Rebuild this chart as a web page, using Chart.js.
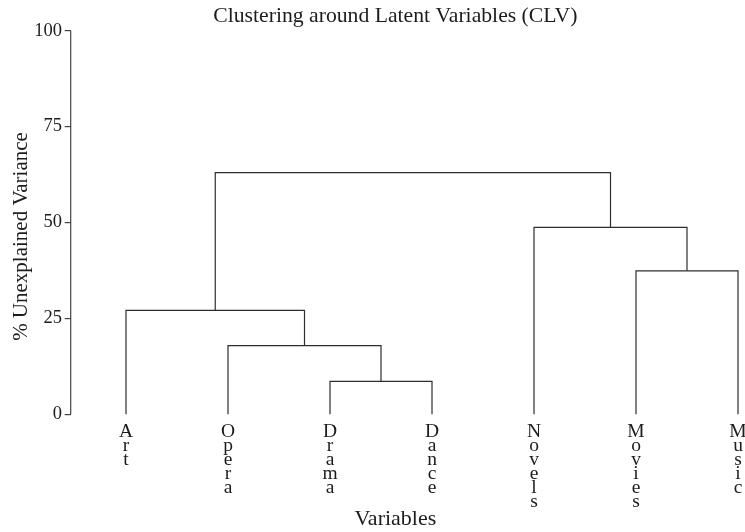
<!DOCTYPE html>
<html>
<head>
<meta charset="utf-8">
<script src="https://cdn.jsdelivr.net/npm/chart.js@4/dist/chart.umd.min.js"></script>
<style>
  html, body { margin: 0; padding: 0; background: #ffffff; }
  #wrap { width: 745px; height: 532px; position: relative; }
</style>
</head>
<body>
<div id="wrap"><canvas id="c" width="745" height="532"></canvas></div>
<script>
// ---- data ----
const leafLabels = ['Art', 'Opera', 'Drama', 'Dance', 'Novels', 'Movies', 'Music'];
// merges: negative = leaf index (1-based), positive = earlier merge (1-based)
const mergeLeft  = [-3, -2, -1, -6, -5, 3];
const mergeRight = [-4,  1,  2, -7,  4, 5];
const mergeHeights = [8.6, 17.9, 27.1, 37.4, 48.75, 63.0];
const yTickValues = [0, 25, 50, 75, 100];
const titleText = 'Clustering around Latent Variables (CLV)';
const xTitleText = 'Variables';
const yTitleText = '% Unexplained Variance';

// ---- build dendrogram segments through the scales ----
const nodePos = [], nodeH = [];
function childPos(c) { return c < 0 ? -c : nodePos[c - 1]; }
function childH(c) { return c < 0 ? 0 : nodeH[c - 1]; }
const lineColor = '#2e2e2e';
const datasets = mergeHeights.map((h, i) => {
  const l = mergeLeft[i], r = mergeRight[i];
  const xl = childPos(l), xr = childPos(r);
  nodePos.push((xl + xr) / 2);
  nodeH.push(h);
  return {
    // drawn right-to-left so every point is kept even beyond the axis range
    data: [
      { x: xr, y: childH(r) },
      { x: xr, y: h },
      { x: xl, y: h },
      { x: xl, y: childH(l) }
    ],
    borderColor: lineColor,
    borderWidth: 1.2,
    pointRadius: 0,
    tension: 0,
    fill: false,
    clip: false
  };
});

const textColor = '#1c1c1c';
const serif = "'Liberation Serif', 'Times New Roman', serif";

const spinePlugin = {
  id: 'spine',
  afterDraw(chart) {
    const y = chart.scales.y;
    const ctx = chart.ctx;
    const x = chart.chartArea.left;
    ctx.save();
    ctx.strokeStyle = '#444';
    ctx.lineWidth = 1.2;
    ctx.beginPath();
    ctx.moveTo(x, y.getPixelForValue(yTickValues[0]));
    ctx.lineTo(x, y.getPixelForValue(yTickValues[yTickValues.length - 1]));
    ctx.stroke();
    ctx.restore();
  }
};

new Chart(document.getElementById('c'), {
  type: 'line',
  data: { datasets },
  options: {
    responsive: false,
    animation: false,
    layout: { padding: { left: 0, right: 25, top: 0, bottom: 0 } },
    plugins: { legend: { display: false }, tooltip: { enabled: false }, title: { display: false } },
    scales: {
      x: {
        type: 'linear',
        position: 'bottom',
        min: 0.4578,
        max: 6.8235,
        afterBuildTicks: (s) => { s.ticks = leafLabels.map((_, i) => ({ value: i + 1 })); },
        afterFit: (s) => { s.height = 89.7; s.paddingLeft = 0; s.paddingRight = 0; },
        grid: { display: false },
        border: { display: false },
        ticks: {
          autoSkip: false,
          maxRotation: 0,
          mirror: true,
          padding: 3.2,
          color: textColor,
          font: { family: serif, size: 19.5, lineHeight: '14px' },
          callback: (v) => { const lab = leafLabels[Math.round(v) - 1]; return lab ? lab.split('') : ''; }
        },
        title: {
          display: true,
          text: xTitleText,
          color: textColor,
          font: { family: serif, size: 22, lineHeight: 1.2 },
          padding: { top: 0, bottom: 0 }
        }
      },
      x2: {
        type: 'linear',
        position: 'top',
        min: 0, max: 1,
        afterFit: (s) => { s.height = 30.7; },
        grid: { display: false },
        border: { display: false },
        ticks: { display: false },
        title: {
          display: true,
          text: titleText,
          color: textColor,
          font: { family: serif, size: 21.7, lineHeight: 1.2 },
          padding: { top: 3.2, bottom: 0 }
        }
      },
      y: {
        type: 'linear',
        min: -7.3,
        max: 100,
        afterBuildTicks: (s) => { s.ticks = yTickValues.map(v => ({ value: v })); },
        afterFit: (s) => { s.width = 70.7; },
        border: { display: false },
        grid: { display: true, drawOnChartArea: false, drawTicks: true, tickLength: 6, color: '#444', lineWidth: 1.2 },
        ticks: {
          padding: 2.7,
          color: textColor,
          font: { family: serif, size: 18.5 }
        },
        title: {
          display: true,
          text: yTitleText,
          color: textColor,
          font: { family: serif, size: 21, lineHeight: 1.2 },
          padding: { top: 8.7, bottom: 0 }
        }
      }
    }
  },
  plugins: [spinePlugin]
});
</script>
</body>
</html>
